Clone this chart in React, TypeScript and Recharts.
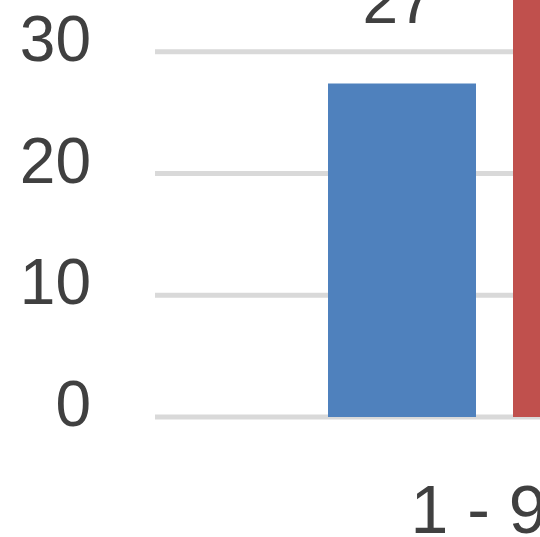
import { BarChart, Bar, XAxis, YAxis, CartesianGrid, LabelList } from "recharts"

const categories = ["1 - 99"]
const seriesA = [27.4]
const seriesB = [38]
const yTicks = [0, 10, 20, 30]

const data = categories.map((name, i) => ({ name, a: seriesA[i], b: seriesB[i] }))

const font = "'Liberation Sans', Arial, sans-serif"
const textColor = "#404040"

const YTick = ({ x, y, payload }: any) => (
  <text x={x - 64} y={y + 9} textAnchor="end" fill={textColor} fontSize={64} fontFamily={font}>
    {payload.value}
  </text>
)

const XTick = ({ x, y, payload }: any) => (
  <text x={x + 3} y={y + 116} textAnchor="middle" fill={textColor} fontSize={68} fontFamily={font}>
    {payload.value}
  </text>
)

const topLabel = (props: any) => {
  const { x, y, width, value } = props
  return (
    <text x={x + width / 2 - 4} y={y - 60} textAnchor="middle" fill={textColor} fontSize={64} fontFamily={font}>
      {Math.round(value)}
    </text>
  )
}

export default function App() {
  return (
    <div style={{ position: "fixed", left: 0, top: 0, width: 540, height: 537, overflow: "hidden", background: "#fff" }}>
      <div style={{ position: "absolute", left: 0, top: -70 }}>
        <BarChart
          width={834}
          height={617}
          data={data}
          margin={{ top: 0, right: 0, left: 0, bottom: 0 }}
          barSize={148}
          barGap={37}
        >
          <CartesianGrid vertical={false} stroke="#d9d9d9" strokeWidth={5} horizontalValues={yTicks} />
          <XAxis dataKey="name" height={130} axisLine={false} tickLine={false} tickSize={0} tickMargin={0} tick={<XTick />} />
          <YAxis
            width={155}
            domain={[0, 40]}
            ticks={yTicks}
            axisLine={false}
            tickLine={false}
            tickSize={0}
            tickMargin={0}
            tick={<YTick />}
          />
          <Bar dataKey="a" fill="#4f81bd" isAnimationActive={false}>
            <LabelList dataKey="a" content={topLabel} />
          </Bar>
          <Bar dataKey="b" fill="#c0504d" isAnimationActive={false} />
        </BarChart>
      </div>
    </div>
  )
}
